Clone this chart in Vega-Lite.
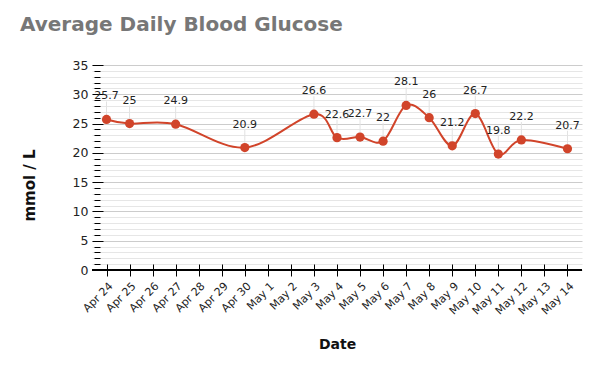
{
  "$schema": "https://vega.github.io/schema/vega-lite/v6.json",
  "width": 490,
  "height": 205,
  "autosize": {"type": "none"},
  "padding": {"left": 92, "top": 65, "right": 18, "bottom": 101},
  "background": "white",
  "title": {
    "text": "Average Daily Blood Glucose",
    "anchor": "start",
    "frame": "group",
    "dx": -72,
    "offset": 24,
    "fontSize": 20,
    "font": "DejaVu Sans",
    "fontWeight": "bold",
    "color": "#777777"
  },
  "config": {
    "view": {"stroke": null},
    "axis": {"labelFont": "DejaVu Sans", "titleFont": "DejaVu Sans", "labelColor": "#222", "titleColor": "#111"}
  },
  "data": {
    "values": [
      {"date": "Apr 24", "value": 25.7},
      {"date": "Apr 25", "value": 25},
      {"date": "Apr 27", "value": 24.9},
      {"date": "Apr 30", "value": 20.9},
      {"date": "May 3", "value": 26.6},
      {"date": "May 4", "value": 22.6},
      {"date": "May 5", "value": 22.7},
      {"date": "May 6", "value": 22},
      {"date": "May 7", "value": 28.1},
      {"date": "May 8", "value": 26},
      {"date": "May 9", "value": 21.2},
      {"date": "May 10", "value": 26.7},
      {"date": "May 11", "value": 19.8},
      {"date": "May 12", "value": 22.2},
      {"date": "May 14", "value": 20.7}
    ]
  },
  "resolve": {"axis": {"y": "independent", "x": "independent"}},
  "layer": [
    {
      "mark": {"type": "rule", "y2Offset": -18, "color": "#e2e2e2", "strokeWidth": 1},
      "encoding": {
        "x": {
          "field": "date", "type": "ordinal",
          "scale": {"type": "point", "padding": 0.63, "domain": ["Apr 24","Apr 25","Apr 26","Apr 27","Apr 28","Apr 29","Apr 30","May 1","May 2","May 3","May 4","May 5","May 6","May 7","May 8","May 9","May 10","May 11","May 12","May 13","May 14"]},
          "axis": {
            "orient": "bottom", "title": "Date", "labelAngle": -45, "labelFontSize": 11,
            "domain": false, "offset": -6, "tickSize": 12, "tickColor": "#000", "labelPadding": 4,
            "titleFontSize": 14, "titleFontWeight": "bold", "titleY": 73, "grid": false
          }
        },
        "y": {
          "field": "value", "type": "quantitative",
          "scale": {"domain": [0, 35], "nice": false},
          "axis": {
            "orient": "left", "title": "mmol / L", "values": [0,5,10,15,20,25,30,35],
            "domain": false, "tickSize": -11, "tickColor": "#000", "labelPadding": 15, "labelFontSize": 12.5,
            "grid": true, "gridColor": "#cccccc", "titleFontSize": 15, "titleFontWeight": "bold", "titleX": -55, "titleY": 120
          }
        },
        "y2": {"field": "value"}
      }
    },
    {
      "mark": {"type": "line", "interpolate": "cardinal", "color": "#d1442a", "strokeWidth": 2},
      "encoding": {
        "x": {"field": "date", "type": "ordinal", "axis": null},
        "y": {
          "field": "value", "type": "quantitative",
          "axis": {
            "orient": "left", "title": null, "labels": false,
            "values": [1,2,3,4,6,7,8,9,11,12,13,14,16,17,18,19,21,22,23,24,26,27,28,29,31,32,33,34],
            "domain": false, "offset": -2, "tickSize": -6, "tickColor": "#000", "grid": true, "gridColor": "#e6e6e6"
          }
        }
      }
    },
    {
      "mark": {"type": "point", "filled": true, "opacity": 1, "size": 85, "color": "#d1442a"},
      "encoding": {
        "x": {"field": "date", "type": "ordinal", "axis": null},
        "y": {"field": "value", "type": "quantitative", "axis": null}
      }
    },
    {
      "mark": {"type": "text", "dy": -23, "font": "DejaVu Sans", "fontSize": 11, "color": "#222"},
      "encoding": {
        "x": {"field": "date", "type": "ordinal", "axis": null},
        "y": {"field": "value", "type": "quantitative", "axis": null},
        "text": {"field": "value", "type": "quantitative"}
      }
    },
    {
      "mark": {"type": "rule", "color": "#000", "strokeWidth": 1},
      "encoding": {"y": {"datum": 0, "axis": null}}
    }
  ]
}
